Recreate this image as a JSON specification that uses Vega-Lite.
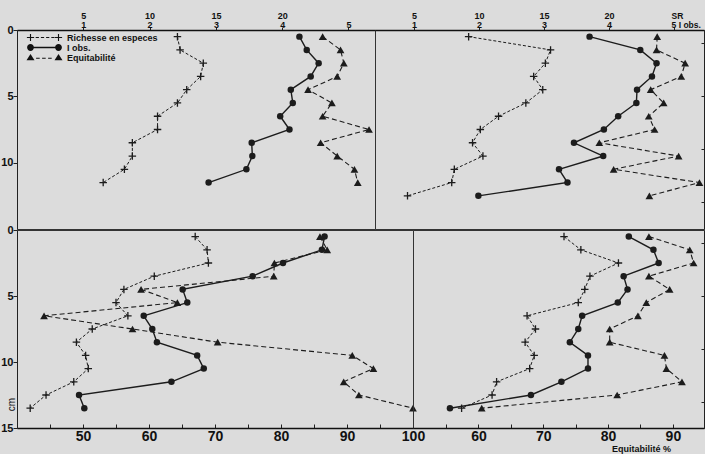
{
  "$schema": "https://vega.github.io/schema/vega-lite/v6.json",
  "background": "#dcdcdc",
  "padding": {"left": 0, "top": 10, "right": 0, "bottom": 0},
  "config": {
    "font": "Liberation Sans",
    "view": {"stroke": "#333333", "strokeWidth": 1},
    "axis": {"grid": false, "labelFont": "Liberation Sans", "labelFontWeight": "bold", "labelColor": "#111111", "domainColor": "#222222", "tickColor": "#222222", "labelFlush": false, "labelOverlap": false, "labelBound": false, "titleFont": "Liberation Sans", "titleColor": "#111111"},
    "concat": {"spacing": 0}
  },
  "datasets": {
    "nov": [
      {"d": 0.5, "SR": 12.1, "I": 4.26, "E": 86.1},
      {"d": 1.5, "SR": 12.3, "I": 4.37, "E": 88.8},
      {"d": 2.5, "SR": 14.05, "I": 4.55, "E": 89.3},
      {"d": 3.5, "SR": 13.85, "I": 4.43, "E": 88.3},
      {"d": 4.5, "SR": 12.8, "I": 4.13, "E": 83.9},
      {"d": 5.5, "SR": 12.1, "I": 4.16, "E": 87.5},
      {"d": 6.5, "SR": 10.6, "I": 3.97, "E": 86.1},
      {"d": 7.5, "SR": 10.6, "I": 4.11, "E": 93.1},
      {"d": 8.5, "SR": 8.7, "I": 3.54, "E": 85.8},
      {"d": 9.5, "SR": 8.7, "I": 3.55, "E": 88.3},
      {"d": 10.5, "SR": 8.1, "I": 3.46, "E": 90.9},
      {"d": 11.5, "SR": 6.5, "I": 2.89, "E": 91.4}
    ],
    "mars": [
      {"d": 0.5, "SR": 9.2, "I": 3.70, "E": 87.4},
      {"d": 1.5, "SR": 15.5, "I": 4.48, "E": 87.3},
      {"d": 2.5, "SR": 15.1, "I": 4.73, "E": 91.7},
      {"d": 3.5, "SR": 14.2, "I": 4.66, "E": 91.1},
      {"d": 4.5, "SR": 14.9, "I": 4.43, "E": 86.4},
      {"d": 5.5, "SR": 13.6, "I": 4.42, "E": 88.4},
      {"d": 6.5, "SR": 11.5, "I": 4.14, "E": 86.1},
      {"d": 7.5, "SR": 10.1, "I": 3.92, "E": 87.0},
      {"d": 8.5, "SR": 9.5, "I": 3.46, "E": 78.5},
      {"d": 9.5, "SR": 10.3, "I": 3.91, "E": 90.7},
      {"d": 10.5, "SR": 8.1, "I": 3.23, "E": 80.7},
      {"d": 11.5, "SR": 7.9, "I": 3.36, "E": 93.9},
      {"d": 12.5, "SR": 4.5, "I": 1.99, "E": 86.2}
    ],
    "mai": [
      {"d": 0.5, "SR": 13.5, "I": 4.66, "E": 85.9},
      {"d": 1.5, "SR": 14.4, "I": 4.62, "E": 87.0},
      {"d": 2.5, "SR": 14.5, "I": 4.03, "E": 79.0},
      {"d": 3.5, "SR": 10.4, "I": 3.57, "E": 78.9},
      {"d": 4.5, "SR": 8.1, "I": 2.51, "E": 58.8},
      {"d": 5.5, "SR": 7.5, "I": 2.58, "E": 64.3},
      {"d": 6.5, "SR": 8.4, "I": 1.92, "E": 44.1},
      {"d": 7.5, "SR": 5.7, "I": 2.05, "E": 57.5},
      {"d": 8.5, "SR": 4.5, "I": 2.12, "E": 70.4},
      {"d": 9.5, "SR": 5.2, "I": 2.73, "E": 90.8},
      {"d": 10.5, "SR": 5.4, "I": 2.83, "E": 94.0},
      {"d": 11.5, "SR": 4.3, "I": 2.34, "E": 89.5},
      {"d": 12.5, "SR": 2.2, "I": 0.94, "E": 91.8},
      {"d": 13.5, "SR": 1.0, "I": 1.02, "E": 100}
    ],
    "aout": [
      {"d": 0.5, "SR": 16.6, "I": 4.32, "E": 86.3},
      {"d": 1.5, "SR": 17.9, "I": 4.70, "E": 92.6},
      {"d": 2.5, "SR": 20.8, "I": 4.78, "E": 93.2},
      {"d": 3.5, "SR": 18.6, "I": 4.24, "E": 86.3},
      {"d": 4.5, "SR": 18.2, "I": 4.30, "E": 89.5},
      {"d": 5.5, "SR": 17.7, "I": 4.15, "E": 85.9},
      {"d": 6.5, "SR": 13.75, "I": 3.60, "E": 84.6},
      {"d": 7.5, "SR": 14.4, "I": 3.54, "E": 80.25},
      {"d": 8.5, "SR": 13.6, "I": 3.41, "E": 80.25},
      {"d": 9.5, "SR": 14.3, "I": 3.69, "E": 88.7},
      {"d": 10.5, "SR": 13.95, "I": 3.69, "E": 89.0},
      {"d": 11.5, "SR": 11.4, "I": 3.28, "E": 91.4},
      {"d": 12.5, "SR": 11.05, "I": 2.81, "E": 81.4},
      {"d": 13.5, "SR": 8.7, "I": 1.56, "E": 60.5}
    ]
  },
  "spacing": -10,
  "vconcat": [
    {
      "spacing": 0,
      "bounds": "flush",
      "hconcat": [
        {
          "width": 358, "height": 199,
          "data": {"name": "nov"},
          "layer": [
            {
              "encoding": {
                "x": {"field": "SR", "type": "quantitative", "scale": {"domain": [0, 27], "nice": false, "zero": false},
                  "axis": {"orient": "top", "values": [5, 10, 15, 20, 25], "labelExpr": "datum.value == 25 ? ['', '5'] : [datum.label, '' + (datum.value / 5)]", "labelFontSize": 9, "labelLineHeight": 9, "labelPadding": 7, "tickSize": 3, "title": null, "domainWidth": 1.5, "domainColor": "#111111"}},
                "y": {"field": "d", "type": "quantitative", "scale": {"domain": [0, 15], "reverse": true, "nice": false, "zero": false},
                  "axis": {"orient": "left", "values": [0, 5, 10], "labelFontSize": 11, "labelPadding": 0, "tickSize": 4, "title": null}}
              },
              "layer": [
                {"mark": {"type": "line", "color": "#1c1c1c", "strokeWidth": 1, "strokeDash": [3, 2]}, "encoding": {"order": {"field": "d", "type": "quantitative"}}},
                {"mark": {"type": "point", "shape": "M-1,0H1M0,-1V1", "size": 56, "filled": false, "color": "#1c1c1c", "strokeWidth": 1.3, "opacity": 1}},
                {"data": {"values": [{"t": "Novembre"}]}, "mark": {"type": "text", "font": "Liberation Sans", "fontWeight": "bold", "fontSize": 17, "align": "left", "baseline": "middle", "color": "#111111"}, "encoding": {"x": {"datum": 1.0}, "y": {"datum": 3.6}, "text": {"field": "t"}}}
              ]
            },
            {
              "encoding": {
                "x": {"field": "I", "type": "quantitative", "scale": {"domain": [0, 5.4], "nice": false, "zero": false}, "axis": null},
                "y": {"field": "d", "type": "quantitative"}
              },
              "layer": [
                {"mark": {"type": "line", "color": "#1c1c1c", "strokeWidth": 1.4}, "encoding": {"order": {"field": "d", "type": "quantitative"}}},
                {"mark": {"type": "point", "shape": "circle", "size": 42, "filled": true, "color": "#1c1c1c", "opacity": 1}}
              ]
            },
            {
              "encoding": {
                "x": {"field": "E", "type": "quantitative", "scale": {"domain": [40, 94], "nice": false, "zero": false}, "axis": null},
                "y": {"field": "d", "type": "quantitative"}
              },
              "layer": [
                {"mark": {"type": "line", "color": "#1c1c1c", "strokeWidth": 1.1, "strokeDash": [5, 3]}, "encoding": {"order": {"field": "d", "type": "quantitative"}}},
                {"mark": {"type": "point", "shape": "triangle-up", "size": 60, "filled": true, "color": "#1c1c1c", "opacity": 1}}
              ]
            },
            {
              "data": {"values": []},
              "mark": {"type": "point", "filled": true, "fill": "#111111", "opacity": 1},
              "encoding": {
                "shape": {"field": "s", "type": "nominal",
                  "scale": {"domain": ["Richesse en especes", "I obs.", "Equitabilité"],
                    "range": ["M-0.9,-0.14H0.9V0.14H-0.9ZM-0.14,-0.9H0.14V0.9H-0.14ZM6.1,-0.14H7.9V0.14H6.1ZM6.86,-0.9H7.14V0.9H6.86ZM1.3,-0.12H2.1V0.12H1.3ZM2.6,-0.12H3.4V0.12H2.6ZM3.9,-0.12H4.7V0.12H3.9ZM5.2,-0.12H6V0.12H5.2Z",
                      "M0.8,-0.16H6.2V0.16H0.8ZM0.85,0A0.85,0.85,0,1,1,-0.85,0A0.85,0.85,0,1,1,0.85,0ZM7.85,0A0.85,0.85,0,1,1,6.15,0A0.85,0.85,0,1,1,7.85,0Z",
                      "M-1,0.7L0,-0.9L1,0.7ZM6,0.7L7,-0.9L8,0.7ZM1.4,0.05H2.3V0.3H1.4ZM2.9,0.05H3.8V0.3H2.9ZM4.4,0.05H5.3V0.3H4.4Z"]},
                  "legend": {"orient": "none", "legendX": 9, "legendY": 3, "title": null, "padding": 0, "symbolSize": 64, "symbolStrokeWidth": 0, "symbolFillColor": "#111111", "symbolOpacity": 1, "labelFont": "Liberation Sans", "labelFontWeight": "bold", "labelFontSize": 9, "labelColor": "#111111", "labelOffset": 32, "rowPadding": 0}}
              }
            }
          ],
          "resolve": {"scale": {"x": "independent"}}
        },
        {
          "width": 329, "height": 199,
          "data": {"name": "mars"},
          "layer": [
            {
              "encoding": {
                "x": {"field": "SR", "type": "quantitative", "scale": {"domain": [2.0, 27.3], "nice": false, "zero": false},
                  "axis": {"orient": "top", "values": [5, 10, 15, 20, 25], "labelExpr": "datum.value == 25 ? ['SR', '5 I obs.'] : [datum.label, '' + (datum.value / 5)]", "labelAlign": {"condition": {"test": "datum.value == 25", "value": "left"}, "value": "center"}, "labelOffset": {"condition": {"test": "datum.value == 25", "value": -3}, "value": 0}, "labelFontSize": {"condition": {"test": "datum.value == 25", "value": 8.5}, "value": 9}, "labelLineHeight": 9, "labelPadding": 7, "tickSize": 3, "title": null, "domainWidth": 1.5, "domainColor": "#111111"}},
                "y": {"field": "d", "type": "quantitative", "scale": {"domain": [0, 15], "reverse": true, "nice": false, "zero": false},
                  "axis": {"orient": "right", "values": [1, 2, 3, 4, 5, 6, 7, 8, 9, 10, 11, 12, 13, 14], "labels": false, "tickSize": -3, "title": null}}
              },
              "layer": [
                {"mark": {"type": "line", "color": "#1c1c1c", "strokeWidth": 1, "strokeDash": [3, 2]}, "encoding": {"order": {"field": "d", "type": "quantitative"}}},
                {"mark": {"type": "point", "shape": "M-1,0H1M0,-1V1", "size": 56, "filled": false, "color": "#1c1c1c", "strokeWidth": 1.3, "opacity": 1}},
                {"data": {"values": [{"t": "Mars"}]}, "mark": {"type": "text", "font": "Liberation Sans", "fontWeight": "bold", "fontSize": 17, "align": "left", "baseline": "middle", "color": "#111111"}, "encoding": {"x": {"datum": 6.03}, "y": {"datum": 3.6}, "text": {"field": "t"}}}
              ]
            },
            {
              "encoding": {
                "x": {"field": "I", "type": "quantitative", "scale": {"domain": [0.4, 5.46], "nice": false, "zero": false}, "axis": null},
                "y": {"field": "d", "type": "quantitative"}
              },
              "layer": [
                {"mark": {"type": "line", "color": "#1c1c1c", "strokeWidth": 1.4}, "encoding": {"order": {"field": "d", "type": "quantitative"}}},
                {"mark": {"type": "point", "shape": "circle", "size": 42, "filled": true, "color": "#1c1c1c", "opacity": 1}}
              ]
            },
            {
              "encoding": {
                "x": {"field": "E", "type": "quantitative", "scale": {"domain": [44, 94.6], "nice": false, "zero": false}, "axis": null},
                "y": {"field": "d", "type": "quantitative"}
              },
              "layer": [
                {"mark": {"type": "line", "color": "#1c1c1c", "strokeWidth": 1.1, "strokeDash": [5, 3]}, "encoding": {"order": {"field": "d", "type": "quantitative"}}},
                {"mark": {"type": "point", "shape": "triangle-up", "size": 60, "filled": true, "color": "#1c1c1c", "opacity": 1}}
              ]
            }
          ],
          "resolve": {"scale": {"x": "independent"}}
        }
      ]
    },
    {
      "spacing": 0,
      "bounds": "flush",
      "hconcat": [
        {
          "width": 396, "height": 198,
          "data": {"name": "mai"},
          "layer": [
            {
              "encoding": {
                "x": {"field": "E", "type": "quantitative", "scale": {"domain": [40, 100], "nice": false, "zero": false},
                  "axis": {"orient": "bottom", "values": [45, 50, 55, 60, 65, 70, 75, 80, 85, 90, 95, 100], "labelExpr": "datum.value % 10 == 0 ? datum.label : ''", "labelFontSize": 14, "labelPadding": 5, "tickSize": -4, "title": null, "domainWidth": 1.5, "domainColor": "#111111"}},
                "y": {"field": "d", "type": "quantitative", "scale": {"domain": [0, 15], "reverse": true, "nice": false, "zero": false},
                  "axis": {"orient": "left", "values": [0, 5, 10, 15], "labelFontSize": 11, "labelPadding": 0, "tickSize": 4, "title": "cm", "titleAngle": 270, "titleX": -6, "titleY": 174, "titleFontSize": 10, "titleFontWeight": "normal", "titleAlign": "center", "titleBaseline": "middle"}}
              },
              "layer": [
                {"mark": {"type": "line", "color": "#1c1c1c", "strokeWidth": 1.1, "strokeDash": [5, 3]}, "encoding": {"order": {"field": "d", "type": "quantitative"}}},
                {"mark": {"type": "point", "shape": "triangle-up", "size": 60, "filled": true, "color": "#1c1c1c", "opacity": 1}},
                {"data": {"values": [{"t": "Mai"}]}, "mark": {"type": "text", "font": "Liberation Sans", "fontWeight": "bold", "fontSize": 17, "align": "left", "baseline": "middle", "color": "#111111"}, "encoding": {"x": {"datum": 42.05}, "y": {"datum": 2.6}, "text": {"field": "t"}}}
              ]
            },
            {
              "encoding": {
                "x": {"field": "SR", "type": "quantitative", "scale": {"domain": [0, 30], "nice": false, "zero": false}, "axis": null},
                "y": {"field": "d", "type": "quantitative"}
              },
              "layer": [
                {"mark": {"type": "line", "color": "#1c1c1c", "strokeWidth": 1, "strokeDash": [3, 2]}, "encoding": {"order": {"field": "d", "type": "quantitative"}}},
                {"mark": {"type": "point", "shape": "M-1,0H1M0,-1V1", "size": 56, "filled": false, "color": "#1c1c1c", "strokeWidth": 1.3, "opacity": 1}}
              ]
            },
            {
              "encoding": {
                "x": {"field": "I", "type": "quantitative", "scale": {"domain": [0, 6], "nice": false, "zero": false}, "axis": null},
                "y": {"field": "d", "type": "quantitative"}
              },
              "layer": [
                {"mark": {"type": "line", "color": "#1c1c1c", "strokeWidth": 1.4}, "encoding": {"order": {"field": "d", "type": "quantitative"}}},
                {"mark": {"type": "point", "shape": "circle", "size": 42, "filled": true, "color": "#1c1c1c", "opacity": 1}}
              ]
            }
          ],
          "resolve": {"scale": {"x": "independent"}}
        },
        {
          "width": 291, "height": 198,
          "data": {"name": "aout"},
          "layer": [
            {
              "encoding": {
                "x": {"field": "E", "type": "quantitative", "scale": {"domain": [49.9, 94.8], "nice": false, "zero": false},
                  "axis": {"orient": "bottom", "values": [55, 60, 65, 70, 75, 80, 85, 90], "labelExpr": "datum.value % 10 == 0 ? datum.label : ''", "labelFontSize": 14, "labelPadding": 5, "tickSize": -4, "domainWidth": 1.5, "domainColor": "#111111", "title": "Equitabilité %", "titleX": 228, "titleY": 20, "titleFontSize": 9, "titleFontWeight": "bold", "titleAlign": "center", "titleBaseline": "middle"}},
                "y": {"field": "d", "type": "quantitative", "scale": {"domain": [0, 15], "reverse": true, "nice": false, "zero": false},
                  "axis": {"orient": "right", "values": [1, 2, 3, 4, 5, 6, 7, 8, 9, 10, 11, 12, 13, 14], "labels": false, "tickSize": -3, "title": null}}
              },
              "layer": [
                {"mark": {"type": "line", "color": "#1c1c1c", "strokeWidth": 1.1, "strokeDash": [5, 3]}, "encoding": {"order": {"field": "d", "type": "quantitative"}}},
                {"mark": {"type": "point", "shape": "triangle-up", "size": 60, "filled": true, "color": "#1c1c1c", "opacity": 1}},
                {"data": {"values": [{"t": "Août"}]}, "mark": {"type": "text", "font": "Liberation Sans", "fontWeight": "bold", "fontSize": 17, "align": "left", "baseline": "middle", "color": "#111111"}, "encoding": {"x": {"datum": 52.07}, "y": {"datum": 2.6}, "text": {"field": "t"}}}
              ]
            },
            {
              "encoding": {
                "x": {"field": "SR", "type": "quantitative", "scale": {"domain": [4.95, 27.4], "nice": false, "zero": false}, "axis": null},
                "y": {"field": "d", "type": "quantitative"}
              },
              "layer": [
                {"mark": {"type": "line", "color": "#1c1c1c", "strokeWidth": 1, "strokeDash": [3, 2]}, "encoding": {"order": {"field": "d", "type": "quantitative"}}},
                {"mark": {"type": "point", "shape": "M-1,0H1M0,-1V1", "size": 56, "filled": false, "color": "#1c1c1c", "strokeWidth": 1.3, "opacity": 1}}
              ]
            },
            {
              "encoding": {
                "x": {"field": "I", "type": "quantitative", "scale": {"domain": [0.99, 5.48], "nice": false, "zero": false}, "axis": null},
                "y": {"field": "d", "type": "quantitative"}
              },
              "layer": [
                {"mark": {"type": "line", "color": "#1c1c1c", "strokeWidth": 1.4}, "encoding": {"order": {"field": "d", "type": "quantitative"}}},
                {"mark": {"type": "point", "shape": "circle", "size": 42, "filled": true, "color": "#1c1c1c", "opacity": 1}}
              ]
            }
          ],
          "resolve": {"scale": {"x": "independent"}}
        }
      ]
    }
  ]
}
